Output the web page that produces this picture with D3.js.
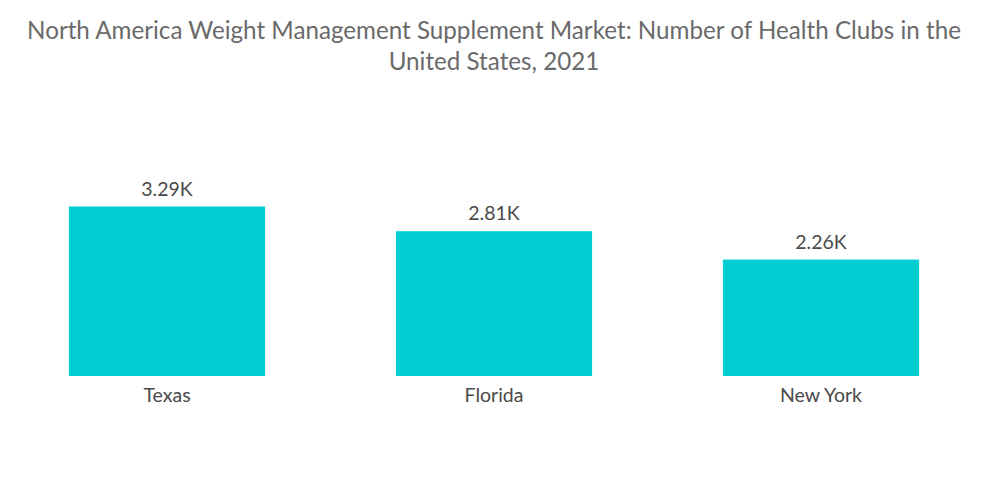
<!DOCTYPE html>
<html><head><meta charset="utf-8">
<script src="https://cdn.jsdelivr.net/npm/d3@7"></script>
<style>body{margin:0;background:#fff}</style>
</head><body>
<svg id="c" width="1000" height="504"></svg>
<script>
const categories = ["Texas", "Florida", "New York"];
const values = [3.29, 2.81, 2.26];
const valueLabels = ["3.29K", "2.81K", "2.26K"];
const titleLines = ["North America Weight Management Supplement Market: Number of Health Clubs in the", "United States, 2021"];

const svg = d3.select("#c");
const font = "Lato, 'Open Sans', sans-serif";
const x = d3.scaleBand().domain(categories).range([3.5, 984.5]).paddingInner(0.4).paddingOuter(0.2);
const y = d3.scaleLinear().domain([0, 3.29]).range([376, 206.5]);

svg.append("g").selectAll("text").data(titleLines).join("text")
  .attr("x", 494).attr("y", (d, i) => 39 + i * 31)
  .attr("text-anchor", "middle").attr("font-family", font).attr("font-size", 24.2)
  .attr("fill", "#6a6a6a").text(d => d);

svg.append("g").selectAll("text").data(values).join("text")
  .attr("x", (d, i) => x(categories[i]) + x.bandwidth() / 2).attr("y", d => y(d) - 11)
  .attr("text-anchor", "middle").attr("font-family", font).attr("font-size", 19.5)
  .attr("fill", "#4a4a4a").text((d, i) => valueLabels[i]);

svg.append("g").selectAll("rect").data(values).join("rect")
  .attr("x", (d, i) => x(categories[i])).attr("width", x.bandwidth())
  .attr("y", d => y(d)).attr("height", d => y(0) - y(d)).attr("fill", "#00CED1");

const ax = svg.append("g").attr("transform", "translate(0,376)")
  .call(d3.axisBottom(x).tickSize(0).tickPadding(12));
ax.select(".domain").remove();
ax.selectAll("text").attr("font-family", font).attr("font-size", 19.5)
  .attr("fill", "#4a4a4a");
</script>
</body></html>
